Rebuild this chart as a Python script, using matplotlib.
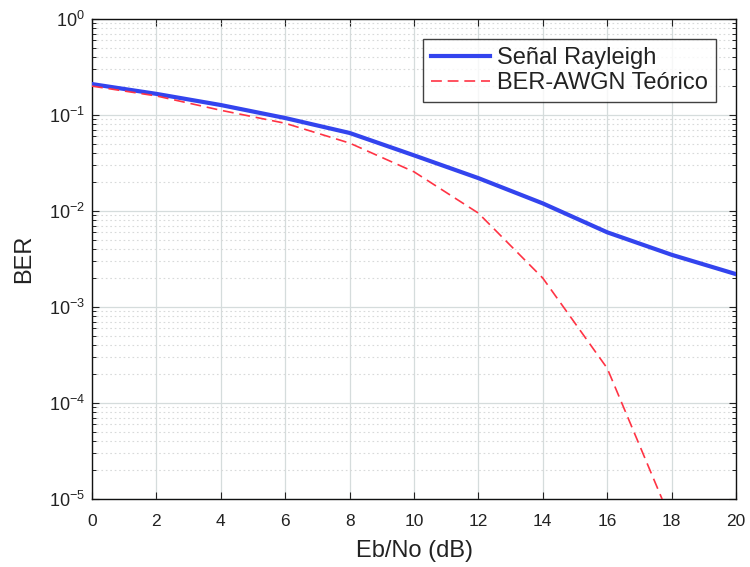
import matplotlib
matplotlib.use("Agg")
import matplotlib.pyplot as plt
from matplotlib.ticker import LogLocator, NullFormatter, FixedLocator, FuncFormatter
import numpy as np

ebno_db = [0, 2, 4, 6, 8, 10, 12, 14, 16, 18, 20]
ber_rayleigh = [0.21, 0.166, 0.127, 0.093, 0.065, 0.038, 0.022, 0.012, 0.0060, 0.0035, 0.0022]
ber_awgn_teo = [0.20, 0.158, 0.112, 0.082, 0.051, 0.0256, 0.0095, 0.0020, 2.3e-4, 5.8e-6, 1e-7]

plt.rcParams['font.family'] = ['Liberation Sans', 'DejaVu Sans']
plt.rcParams['mathtext.fontset'] = 'custom'
plt.rcParams['mathtext.rm'] = 'Liberation Sans'
plt.rcParams['mathtext.default'] = 'regular'


def pow10_label(v, pos):
    return r'10$^{%d}$' % int(round(np.log10(v)))


fig = plt.figure(figsize=(7.5, 5.67), dpi=100)
ax = fig.add_axes([92 / 750, 1 - 499 / 567, (736 - 92) / 750, (499 - 19) / 567])

ax.semilogy(ebno_db, ber_rayleigh, color='#3344ee', lw=3.0, label='Señal Rayleigh', zorder=3)
ax.semilogy(ebno_db, ber_awgn_teo, color='#ff3344', lw=1.2, ls=(0, (6.5, 3.5)),
            label='BER-AWGN Teórico', zorder=3)

ax.set_xlim(0, 20)
ax.set_ylim(1e-5, 1)
ax.xaxis.set_major_locator(FixedLocator(list(range(0, 21, 2))))
ax.yaxis.set_major_locator(LogLocator(base=10, numticks=10))
ax.yaxis.set_minor_locator(LogLocator(base=10, subs=range(2, 10), numticks=10))
ax.yaxis.set_minor_formatter(NullFormatter())
ax.yaxis.set_major_formatter(FuncFormatter(pow10_label))

ax.grid(True, which='major', color='#d5dcdc', lw=0.9, ls='-')
ax.grid(True, which='minor', axis='y', color='#d8dada', lw=0.8, ls=(0, (1.5, 2.5)))
ax.set_axisbelow(True)

ax.tick_params(which='both', direction='in', top=True, right=True, colors='#222222')
ax.tick_params(which='major', length=5, width=0.8)
ax.tick_params(which='minor', length=3, width=0.7)
ax.tick_params(axis='x', pad=11, labelsize=12.5)
ax.tick_params(axis='y', pad=5, labelsize=13)
for s in ax.spines.values():
    s.set_linewidth(1.0)
    s.set_color('#111111')

ax.set_xlabel('Eb/No (dB)', fontsize=17, color='#222222', labelpad=8)
ax.set_ylabel('BER', fontsize=17, color='#222222', labelpad=10)

leg = ax.legend(loc='upper right', fontsize=17, frameon=True, fancybox=False,
                edgecolor='#111111', handlelength=2.5, borderaxespad=0.85,
                borderpad=0.33, labelspacing=0.15, handletextpad=0.3)
leg.get_frame().set_linewidth(1.0)
for t in leg.get_texts():
    t.set_color('#222222')

fig.savefig('out.png', dpi=100)
